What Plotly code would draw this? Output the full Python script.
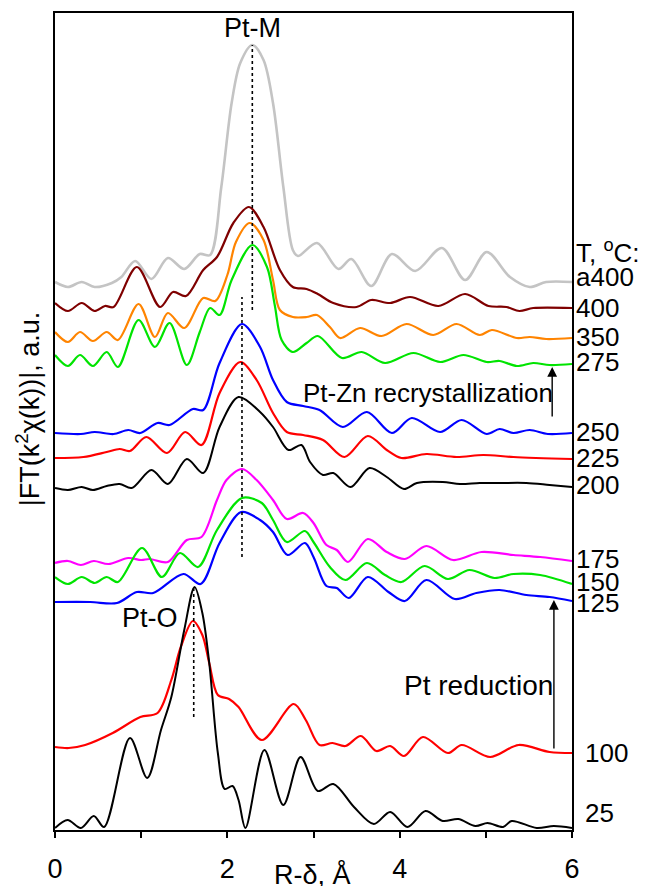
import plotly.graph_objects as go

# ---------------- data (R in Å, |FT| offset-stacked, a.u.) ----------------
R_a400 = [0, 0.15, 0.31, 0.46, 0.66, 0.77, 0.93, 1.12, 1.31, 1.50, 1.68, 1.80, 1.93, 2.05, 2.15, 2.29, 2.42, 2.53, 2.65, 2.76, 2.82, 3.04, 3.29, 3.44, 3.67, 3.91, 4.18, 4.49, 4.76, 5.01, 5.28, 5.51, 5.70, 6.0]
FT_a400 = [5.48, 5.43, 5.48, 5.43, 5.47, 5.53, 5.69, 5.51, 5.72, 5.61, 5.76, 5.75, 6.43, 7.27, 7.67, 7.85, 7.70, 7.27, 6.43, 5.80, 5.74, 5.87, 5.61, 5.71, 5.44, 5.76, 5.59, 5.82, 5.50, 5.78, 5.53, 5.43, 5.48, 5.48]

R_400 = [0, 0.15, 0.31, 0.46, 0.58, 0.68, 0.95, 1.22, 1.37, 1.52, 1.72, 1.88, 2.07, 2.25, 2.42, 2.61, 2.76, 2.92, 3.05, 3.23, 3.50, 3.67, 3.89, 4.12, 4.45, 4.76, 5.03, 5.24, 5.39, 5.55, 6.0]
FT_400 = [5.27, 5.19, 5.27, 5.19, 5.24, 5.23, 5.63, 5.23, 5.38, 5.34, 5.60, 5.73, 6.07, 6.23, 6.03, 5.60, 5.43, 5.41, 5.36, 5.27, 5.23, 5.30, 5.27, 5.33, 5.24, 5.36, 5.24, 5.23, 5.19, 5.22, 5.22]

R_350 = [0, 0.15, 0.29, 0.44, 0.60, 0.73, 0.97, 1.16, 1.31, 1.50, 1.72, 1.86, 2.00, 2.10, 2.26, 2.42, 2.53, 2.61, 2.76, 2.92, 3.04, 3.19, 3.31, 3.54, 3.79, 4.08, 4.39, 4.66, 4.93, 5.07, 5.36, 5.51, 5.70, 6.0]
FT_350 = [4.98, 4.88, 4.98, 4.89, 4.98, 4.90, 5.26, 4.93, 5.17, 5.02, 5.32, 5.29, 5.55, 5.88, 6.07, 5.90, 5.50, 5.20, 5.13, 5.13, 5.15, 5.03, 4.92, 5.02, 4.94, 5.06, 4.95, 5.06, 4.95, 5.00, 4.92, 4.93, 4.91, 4.92]

R_275 = [0, 0.15, 0.29, 0.44, 0.60, 0.73, 0.97, 1.16, 1.33, 1.53, 1.68, 1.80, 1.91, 2.05, 2.29, 2.46, 2.55, 2.63, 2.76, 2.92, 3.05, 3.33, 3.56, 3.83, 4.16, 4.47, 4.74, 5.01, 5.16, 5.36, 5.55, 5.74, 6.0]
FT_275 = [4.75, 4.64, 4.75, 4.64, 4.78, 4.63, 5.10, 4.83, 5.07, 4.65, 4.98, 5.22, 5.15, 5.50, 5.85, 5.63, 5.25, 4.90, 4.78, 4.87, 4.94, 4.72, 4.78, 4.67, 4.77, 4.68, 4.75, 4.68, 4.69, 4.64, 4.67, 4.65, 4.66]

R_250 = [0, 0.30, 0.46, 0.68, 0.85, 0.99, 1.19, 1.33, 1.60, 1.72, 1.91, 2.17, 2.38, 2.53, 2.69, 2.88, 3.07, 3.34, 3.62, 3.91, 4.14, 4.47, 4.72, 5.01, 5.16, 5.32, 5.51, 5.72, 6.0]
FT_250 = [3.97, 3.96, 3.98, 3.96, 4.00, 3.97, 4.07, 4.05, 4.21, 4.20, 4.67, 5.06, 4.83, 4.50, 4.28, 4.24, 4.20, 4.03, 4.18, 3.97, 4.12, 3.98, 4.10, 3.96, 4.01, 3.97, 4.00, 3.96, 3.97]

R_225 = [0, 0.33, 0.60, 0.75, 0.87, 1.06, 1.30, 1.51, 1.70, 1.91, 2.15, 2.34, 2.53, 2.69, 2.88, 3.11, 3.36, 3.63, 3.85, 4.02, 4.31, 4.66, 4.97, 5.32, 6.0]
FT_225 = [3.72, 3.73, 3.78, 3.81, 3.79, 3.93, 3.77, 3.98, 3.85, 4.37, 4.68, 4.50, 4.17, 3.98, 3.95, 3.90, 3.73, 3.94, 3.80, 3.72, 3.76, 3.73, 3.75, 3.73, 3.71]

R_200 = [0, 0.15, 0.31, 0.44, 0.60, 0.75, 0.89, 1.12, 1.31, 1.53, 1.72, 1.91, 2.13, 2.38, 2.53, 2.71, 2.86, 2.96, 3.11, 3.23, 3.43, 3.65, 3.85, 4.05, 4.20, 4.50, 4.70, 4.93, 5.16, 5.47, 5.74, 6.0]
FT_200 = [3.42, 3.40, 3.43, 3.40, 3.44, 3.46, 3.42, 3.60, 3.46, 3.71, 3.57, 4.03, 4.33, 4.18, 4.03, 3.80, 3.85, 3.68, 3.55, 3.57, 3.43, 3.62, 3.53, 3.41, 3.47, 3.48, 3.46, 3.47, 3.47, 3.47, 3.45, 3.43]

R_175 = [0, 0.15, 0.30, 0.45, 0.62, 0.85, 1.00, 1.10, 1.31, 1.53, 1.70, 1.88, 1.99, 2.17, 2.34, 2.53, 2.69, 2.88, 3.00, 3.15, 3.27, 3.40, 3.63, 3.85, 4.06, 4.31, 4.62, 4.95, 5.32, 5.63, 6.0]
FT_175 = [2.67, 2.69, 2.65, 2.69, 2.66, 2.72, 2.70, 2.71, 2.68, 2.90, 2.93, 3.30, 3.50, 3.61, 3.50, 3.30, 3.11, 3.17, 3.07, 2.85, 2.80, 2.68, 2.91, 2.78, 2.71, 2.84, 2.70, 2.78, 2.75, 2.73, 2.69]

R_150 = [0, 0.15, 0.31, 0.46, 0.60, 0.73, 1.01, 1.24, 1.45, 1.66, 1.88, 2.17, 2.40, 2.53, 2.69, 2.90, 3.00, 3.19, 3.37, 3.62, 3.83, 4.02, 4.29, 4.56, 4.81, 5.10, 5.32, 5.63, 6.0]
FT_150 = [2.53, 2.46, 2.53, 2.47, 2.53, 2.48, 2.82, 2.53, 2.77, 2.63, 3.00, 3.32, 3.27, 3.10, 2.88, 2.99, 2.88, 2.63, 2.50, 2.67, 2.55, 2.48, 2.64, 2.51, 2.60, 2.52, 2.56, 2.55, 2.46]

R_125 = [0, 0.41, 0.72, 0.95, 1.14, 1.49, 1.69, 1.91, 2.16, 2.38, 2.53, 2.70, 2.90, 3.00, 3.15, 3.27, 3.41, 3.63, 3.87, 4.06, 4.31, 4.64, 4.89, 5.16, 5.47, 5.74, 6.0]
FT_125 = [2.28, 2.28, 2.27, 2.38, 2.37, 2.56, 2.46, 2.87, 3.18, 3.10, 2.98, 2.75, 2.87, 2.73, 2.44, 2.42, 2.32, 2.53, 2.38, 2.29, 2.50, 2.31, 2.37, 2.40, 2.35, 2.33, 2.29]

R_100 = [0, 0.16, 0.35, 0.67, 0.99, 1.19, 1.35, 1.46, 1.60, 1.71, 1.79, 1.89, 2.02, 2.13, 2.40, 2.77, 2.91, 3.07, 3.22, 3.37, 3.55, 3.73, 3.89, 4.05, 4.27, 4.56, 4.72, 5.05, 5.38, 5.74, 6.0]
FT_100 = [0.83, 0.82, 0.85, 0.97, 1.13, 1.17, 1.50, 1.83, 2.09, 1.95, 1.67, 1.35, 1.31, 1.23, 0.90, 1.26, 1.10, 0.85, 0.87, 0.84, 0.94, 0.79, 0.84, 0.74, 0.93, 0.77, 0.85, 0.73, 0.85, 0.78, 0.77]

R_25 = [0, 0.146, 0.30, 0.45, 0.57, 0.87, 1.07, 1.23, 1.35, 1.50, 1.62, 1.71, 1.79, 1.89, 1.97, 2.06, 2.13, 2.21, 2.43, 2.65, 2.85, 3.05, 3.23, 3.47, 3.70, 3.89, 4.09, 4.30, 4.50, 4.68, 4.88, 5.02, 5.20, 5.30, 5.59, 5.79, 6.0]
FT_25 = [0.02, 0.10, 0.02, 0.14, 0.03, 0.92, 0.52, 1.00, 1.33, 2.00, 2.43, 2.17, 1.67, 0.77, 0.41, 0.44, 0.30, 0.02, 0.80, 0.25, 0.73, 0.39, 0.46, 0.23, 0.06, 0.18, 0.03, 0.19, 0.09, 0.11, 0.04, 0.07, 0.03, 0.09, 0.02, 0.04, 0.02]

series_names = ["a400", "400", "350", "275", "250", "225", "200", "175", "150", "125", "100", "25"]
series_R = [R_a400, R_400, R_350, R_275, R_250, R_225, R_200, R_175, R_150, R_125, R_100, R_25]
series_FT = [FT_a400, FT_400, FT_350, FT_275, FT_250, FT_225, FT_200, FT_175, FT_150, FT_125, FT_100, FT_25]
series_colors = ["#c4c4c4", "#7f0000", "#ff8400", "#00e400", "#0000ff", "#ff0000", "#000000",
                 "#ff00ff", "#00e400", "#0000ff", "#ff0000", "#000000"]
series_widths = [2.6, 2.2, 2.2, 2.2, 2.2, 2.2, 2.0, 2.2, 2.2, 2.2, 2.2, 2.0]

# right-hand temperature labels: (text, paper-x of left edge, level in a.u.)
label_texts = ["T, <sup>o</sup>C:", "a400", "400", "350", "275", "250", "225", "200", "175", "150", "125", "100", "25"]
label_x = [1.004] * 11 + [1.021, 1.021]
label_y = [5.79, 5.53, 5.22, 4.93, 4.68, 3.98, 3.72, 3.45, 2.71, 2.48, 2.27, 0.77, 0.17]

# dotted peak-position markers: R, y_top, y_bottom
peak_R = [2.29, 2.17, 1.61]
peak_top = [7.85, 5.33, 2.43]
peak_bot = [5.20, 2.73, 1.13]

x_ticks = [0, 2, 4, 6]

FONT = "Liberation Sans, Arial, sans-serif"

fig = go.Figure()
for name, xr, yv, col, w in zip(series_names, series_R, series_FT, series_colors, series_widths):
    fig.add_trace(go.Scatter(x=xr, y=yv, mode="lines", name=name,
                             line=dict(color=col, width=w, shape="spline", smoothing=0.9),
                             showlegend=False, hoverinfo="skip"))

for xr, yt, yb in zip(peak_R, peak_top, peak_bot):
    fig.add_shape(type="line", x0=xr, x1=xr, y0=yb, y1=yt, xref="x", yref="y",
                  line=dict(color="black", width=1.6, dash="dot"))

ann = []
for t, lx, ly in zip(label_texts, label_x, label_y):
    ann.append(dict(x=lx, y=ly, xref="paper", yref="y", text=t, showarrow=False,
                    xanchor="left", yanchor="middle", font=dict(size=26, color="black", family=FONT)))

ann += [
    dict(x=2.29, y=8.02, xref="x", yref="y", text="Pt-M", showarrow=False,
         xanchor="center", yanchor="middle", font=dict(size=27, color="black", family=FONT)),
    dict(x=1.10, y=2.12, xref="x", yref="y", text="Pt-O", showarrow=False,
         xanchor="center", yanchor="middle", font=dict(size=27, color="black", family=FONT)),
    dict(x=4.33, y=4.37, xref="x", yref="y", text="Pt-Zn recrystallization", showarrow=False,
         xanchor="center", yanchor="middle", font=dict(size=26, color="black", family=FONT)),
    dict(x=4.91, y=1.45, xref="x", yref="y", text="Pt reduction", showarrow=False,
         xanchor="center", yanchor="middle", font=dict(size=28, color="black", family=FONT)),
    # arrows
    dict(x=5.77, y=4.63, ax=5.77, ay=4.12, xref="x", yref="y", axref="x", ayref="y",
         text="", showarrow=True, arrowhead=2, arrowsize=1.4, arrowwidth=1.4, arrowcolor="black"),
    dict(x=5.79, y=2.30, ax=5.79, ay=0.80, xref="x", yref="y", axref="x", ayref="y",
         text="", showarrow=True, arrowhead=2, arrowsize=1.4, arrowwidth=1.4, arrowcolor="black"),
    # axis titles
    dict(x=-0.052, y=0.515, xref="paper", yref="paper", text="|FT(k<sup>2</sup>χ(k))|, a.u.",
         textangle=-90, showarrow=False, xanchor="center", yanchor="middle",
         font=dict(size=27, color="black", family=FONT)),
    dict(x=0.499, y=-0.055, xref="paper", yref="paper", text="R-δ, Å", showarrow=False,
         xanchor="center", yanchor="middle", font=dict(size=27, color="black", family=FONT)),
]

fig.update_layout(
    width=646, height=886,
    margin=dict(l=55, r=74, t=13, b=56, autoexpand=False),
    paper_bgcolor="white", plot_bgcolor="white",
    annotations=ann,
    font=dict(family=FONT, size=27, color="black"),
)
fig.update_xaxes(range=[0, 6], tickvals=x_ticks, ticktext=[str(v) for v in x_ticks],
                 ticks="outside", ticklen=6, tickwidth=1.6, tickcolor="black",
                 minor=dict(tickvals=[1, 3, 5], ticks="outside", ticklen=6, tickwidth=1.6, tickcolor="black"),
                 showline=True, linecolor="black", linewidth=2, mirror=True,
                 showgrid=False, zeroline=False, tickfont=dict(size=27, family=FONT),
                 ticklabelstandoff=8, automargin=False)
fig.update_yaxes(range=[0, 8.17], showticklabels=False, ticks="",
                 showline=True, linecolor="black", linewidth=2, mirror=True,
                 showgrid=False, zeroline=False, automargin=False)

fig.write_html("out.html", config={"displayModeBar": False},
               post_script="document.body.style.margin='0';")
